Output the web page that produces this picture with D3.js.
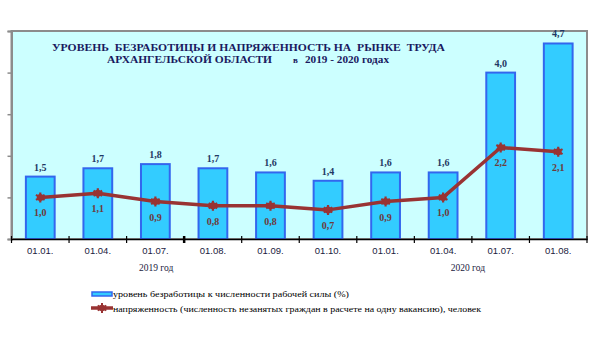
<!DOCTYPE html>
<html>
<head>
<meta charset="utf-8">
<script src="https://cdn.jsdelivr.net/npm/d3@7"></script>
<style>
  html, body { margin: 0; padding: 0; background: #fff; }
  svg { display: block; }
</style>
</head>
<body>
<svg id="chart" width="600" height="338"></svg>
<script>
// Survey dates (two years), unemployment rate and labour-market tension
const categories = ["01.01.", "01.04.", "01.07.", "01.08.", "01.09.", "01.10.", "01.01.", "01.04.", "01.07.", "01.08."];
const unemployment = [1.5, 1.7, 1.8, 1.7, 1.6, 1.4, 1.6, 1.6, 4.0, 4.7];
const tension = [1.0, 1.1, 0.9, 0.8, 0.8, 0.7, 0.9, 1.0, 2.2, 2.1];
const yTicks = [0, 1, 2, 3, 4, 5];
const years = [{ label: "2019 год", from: 0, to: 5 }, { label: "2020 год", from: 6, to: 9 }];
const titleLine1 = "УРОВЕНЬ  БЕЗРАБОТИЦЫ И НАПРЯЖЕННОСТЬ НА  РЫНКЕ  ТРУДА";
const titleLine2a = "АРХАНГЕЛЬСКОЙ ОБЛАСТИ";
const titleLine2b = "в";
const titleLine2c = "2019 - 2020 годах";
const legendBars = "уровень безработицы к численности рабочей силы (%)";
const legendLine = "напряженность (численность незанятых граждан в расчете на одну вакансию), человек";

const svg = d3.select("#chart");
const plot = { left: 11.5, right: 587, top: 31, bottom: 239 };

const x = d3.scaleBand()
  .domain(d3.range(categories.length))
  .range([plot.left, plot.right])
  .paddingInner(0.5)
  .paddingOuter(0.25);
const xb = d3.scaleBand().domain(d3.range(categories.length)).range([plot.left, plot.right]);
const y = d3.scaleLinear().domain([0, 5]).range([plot.bottom, plot.top]);
const fmt = v => d3.format(".1f")(v).replace(".", ",");

// plot area
svg.append("rect")
  .attr("x", plot.left).attr("y", plot.top)
  .attr("width", plot.right - plot.left).attr("height", plot.bottom - plot.top)
  .attr("fill", "#ccffff")
  .attr("stroke", "#8c8c8c").attr("stroke-width", 2);

// value axis (ticks only, left side)
const yAxis = d3.axisLeft(y).tickValues(yTicks).tickSize(4).tickFormat("");
svg.append("g")
  .attr("transform", `translate(${plot.left},0)`)
  .call(yAxis)
  .call(g => g.select(".domain").attr("stroke", "#8c8c8c").attr("stroke-width", 2))
  .call(g => g.selectAll(".tick line").attr("stroke", "#8c8c8c").attr("stroke-width", 1.5));

// bars
svg.append("g").selectAll("rect")
  .data(unemployment)
  .join("rect")
  .attr("x", (d, i) => x(i))
  .attr("y", d => y(d))
  .attr("width", x.bandwidth())
  .attr("height", d => y(0) - y(d))
  .attr("fill", "#33ccff")
  .attr("stroke", "#3366ee")
  .attr("stroke-width", 2);

// category axis
const xAxis = d3.axisBottom(xb).tickSize(0).tickFormat(i => categories[i]);
svg.append("g")
  .attr("transform", `translate(0,${plot.bottom})`)
  .call(xAxis)
  .call(g => g.select(".domain").attr("stroke", "#000").attr("stroke-width", 1.5))
  .call(g => g.selectAll(".tick text")
    .attr("dy", 0).attr("y", 15)
    .attr("font-family", "Liberation Sans, Arial, sans-serif")
    .attr("font-size", 9.5)
    .attr("fill", "#1a1a40"));

// boundary ticks between categories
svg.append("g").selectAll("line")
  .data(d3.range(categories.length + 1))
  .join("line")
  .attr("x1", i => plot.left + i * xb.step())
  .attr("x2", i => plot.left + i * xb.step())
  .attr("y1", plot.bottom - 3)
  .attr("y2", plot.bottom + 4)
  .attr("stroke", "#000")
  .attr("stroke-width", i => i === 3 ? 2.5 : 1.2);

// year labels
svg.append("g").selectAll("text")
  .data(years)
  .join("text")
  .attr("x", d => (xb(d.from) + xb(d.to) + xb.bandwidth()) / 2 + (d.from === 0 ? -28 : -4))
  .attr("y", 271)
  .attr("text-anchor", "middle")
  .attr("font-family", "Liberation Serif, Times New Roman, serif")
  .attr("font-size", 9.5)
  .attr("fill", "#1a1a40")
  .text(d => d.label);

// tension line
const line = d3.line()
  .x((d, i) => xb(i) + xb.bandwidth() / 2)
  .y(d => y(d));
svg.append("path")
  .datum(tension)
  .attr("d", line)
  .attr("fill", "none")
  .attr("stroke", "#993333")
  .attr("stroke-width", 3.5)
  .attr("stroke-linejoin", "round");

const marker = d3.symbol().type(d3.symbolAsterisk).size(70);
const pts = svg.append("g").selectAll("g")
  .data(tension)
  .join("g")
  .attr("transform", (d, i) => `translate(${xb(i) + xb.bandwidth() / 2},${y(d)})`);
pts.append("circle").attr("r", 3.5).attr("fill", "#993333");
pts.append("path").attr("d", marker).attr("fill", "none")
  .attr("stroke", "#993333").attr("stroke-width", 2.2);

// bar value labels
svg.append("g").selectAll("text")
  .data(unemployment)
  .join("text")
  .attr("x", (d, i) => x(i) + x.bandwidth() / 2)
  .attr("y", d => y(d) - 6)
  .attr("text-anchor", "middle")
  .attr("font-family", "Liberation Serif, Times New Roman, serif")
  .attr("font-weight", "bold")
  .attr("font-size", 10)
  .attr("fill", "#1f3864")
  .text(fmt);

// line value labels
svg.append("g").selectAll("text")
  .data(tension)
  .join("text")
  .attr("x", (d, i) => xb(i) + xb.bandwidth() / 2)
  .attr("y", d => y(d) + 19)
  .attr("text-anchor", "middle")
  .attr("font-family", "Liberation Serif, Times New Roman, serif")
  .attr("font-weight", "bold")
  .attr("font-size", 10)
  .attr("fill", "#6e3a3a")
  .text(fmt);

// title
const title = svg.append("g")
  .attr("font-family", "Liberation Serif, Times New Roman, serif")
  .attr("font-weight", "bold")
  .attr("fill", "#1a1a60");
title.append("text").attr("x", 52).attr("y", 51).attr("font-size", 11)
  .attr("textLength", 393).attr("lengthAdjust", "spacingAndGlyphs")
  .attr("xml:space", "preserve").text(titleLine1);
title.append("text").attr("x", 107).attr("y", 63).attr("font-size", 11)
  .attr("textLength", 165).attr("lengthAdjust", "spacingAndGlyphs").text(titleLine2a);
title.append("text").attr("x", 293).attr("y", 63).attr("font-size", 9).text(titleLine2b);
title.append("text").attr("x", 305).attr("y", 63).attr("font-size", 10)
  .attr("textLength", 84).attr("lengthAdjust", "spacingAndGlyphs").text(titleLine2c);

// legend
const legend = svg.append("g")
  .attr("font-family", "Liberation Serif, Times New Roman, serif")
  .attr("font-size", 9)
  .attr("fill", "#000");
legend.append("rect").attr("x", 92).attr("y", 292).attr("width", 20).attr("height", 4)
  .attr("fill", "#33ccff").attr("stroke", "#3366ee").attr("stroke-width", 1.5);
legend.append("text").attr("x", 113).attr("y", 297)
  .attr("textLength", 236).attr("lengthAdjust", "spacingAndGlyphs").text(legendBars);
legend.append("line").attr("x1", 91).attr("x2", 113).attr("y1", 308).attr("y2", 308)
  .attr("stroke", "#993333").attr("stroke-width", 3.5);
legend.append("circle").attr("cx", 102).attr("cy", 308).attr("r", 3.2).attr("fill", "#993333");
legend.append("path").attr("transform", "translate(102,308)").attr("d", marker)
  .attr("fill", "none").attr("stroke", "#993333").attr("stroke-width", 2);
legend.append("text").attr("x", 113).attr("y", 312)
  .attr("textLength", 368).attr("lengthAdjust", "spacingAndGlyphs").text(legendLine);
</script>
</body>
</html>
